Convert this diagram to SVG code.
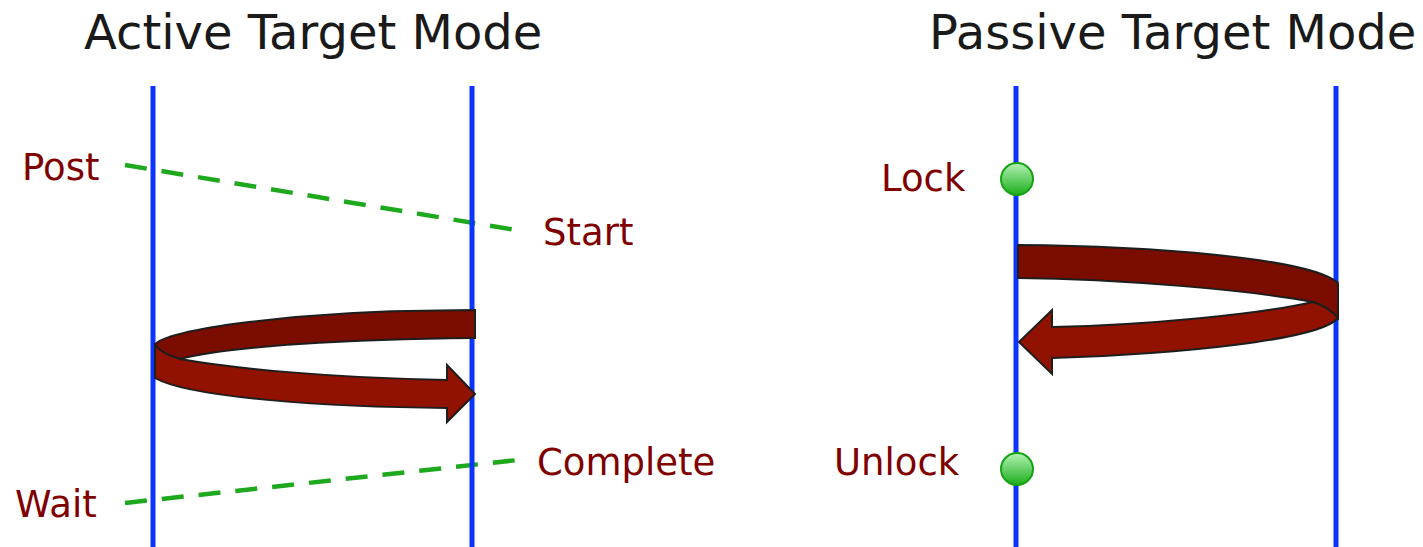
<svg xmlns="http://www.w3.org/2000/svg" width="1423" height="547" viewBox="0 0 1423 547">
<style>
.title{font-family:"DejaVu Sans",Verdana,sans-serif;font-size:48px;fill:#1a1a1a}
.lbl{font-family:"DejaVu Sans",Verdana,sans-serif;font-size:37px;fill:#800000}
.life{stroke:#0a35ff;stroke-width:5;fill:none}
.dash{stroke:#1ea81e;stroke-width:4.5;stroke-dasharray:22 15;fill:none}
.dark{fill:#7a0d00;stroke:#1e1e1e;stroke-width:2;stroke-linejoin:miter}
.light{fill:#911200;stroke:#1e1e1e;stroke-width:2;stroke-linejoin:miter}
.dot{fill:url(#g);stroke:#13a313;stroke-width:2}
</style>
<defs>
<linearGradient id="g" x1="0" y1="0" x2="0" y2="1">
<stop offset="0" stop-color="#b4f2b4"/>
<stop offset="1" stop-color="#1cae1c"/>
</linearGradient>
</defs>
<rect width="1423" height="547" fill="#fff"/>
<g id="titles">
<text class="title" x="84" y="49">Active Target Mode</text>
<text class="title" x="929" y="49">Passive Target Mode</text>
</g>
<g id="connectors">
<line class="dash" x1="125" y1="165" x2="516" y2="230"/>
<line class="dash" x1="125" y1="503" x2="518" y2="460"/>
</g>
<g id="lifelines">
<line class="life" x1="153" y1="86" x2="153" y2="547"/>
<line class="life" x1="472" y1="86" x2="472" y2="547"/>
<line class="life" x1="1016" y1="86" x2="1016" y2="547"/>
<line class="life" x1="1336" y1="86" x2="1336" y2="547"/>
</g>
<g id="active-arrow">
<path class="dark" d="M475,310 L475,338 C350,339 230,346 180,359 Q162,354 155,345 C160,330 300,311 440,310.5 Z"/>
<path class="light" d="M155,345 Q162,354 180,359 C230,368 330,378 447,380 L447,365 L475,394 L447,422 L447,408 C330,407 190,398 155,378 Z"/>
</g>
<g id="passive-arrow">
<path class="dark" d="M1018,245 C1150,246 1310,258 1338,283 L1338,318 Q1330,308 1313,302 C1250,290 1120,279 1018,278 Z"/>
<path class="light" d="M1313,302 C1260,314 1150,325 1052,327 L1052,310 L1019,342 L1052,374 L1052,358 C1180,354 1320,340 1338,318 Q1330,308 1313,302 Z"/>
</g>
<g id="lock"><circle class="dot" cx="1017" cy="179" r="16"/></g>
<g id="unlock"><circle class="dot" cx="1017" cy="469" r="16"/></g>
<g id="labels">
<text class="lbl" x="22" y="180">Post</text>
<text class="lbl" x="543" y="245">Start</text>
<text class="lbl" x="15" y="517">Wait</text>
<text class="lbl" x="537" y="475">Complete</text>
<text class="lbl" x="881" y="191">Lock</text>
<text class="lbl" x="834" y="475">Unlock</text>
</g>
</svg>
